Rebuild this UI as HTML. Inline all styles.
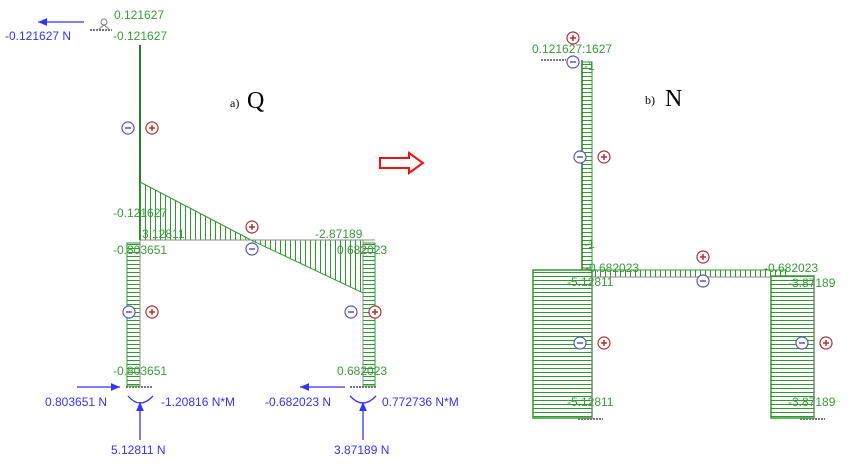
<!DOCTYPE html>
<html><head><meta charset="utf-8"><style>
html,body{margin:0;padding:0;background:#fff;}
svg{display:block;font-family:"Liberation Sans",sans-serif;}
.g{fill:#3a9a3a;font-size:12px;}
.b{fill:#3333ff;font-size:12px;}
</style></head><body>
<svg width="849" height="465" viewBox="0 0 849 465" xmlns="http://www.w3.org/2000/svg">
<defs>
<pattern id="hz" width="6" height="4" patternUnits="userSpaceOnUse"><rect width="6" height="4" fill="#fff"/><line x1="0" y1="0.5" x2="6" y2="0.5" stroke="#2e9a2e" stroke-width="1"/></pattern>
<pattern id="vt" width="5" height="6" patternUnits="userSpaceOnUse"><rect width="5" height="6" fill="#fff"/><line x1="0.5" y1="0" x2="0.5" y2="6" stroke="#2e9a2e" stroke-width="1"/></pattern>
<marker id="ah" markerWidth="8" markerHeight="8" refX="7" refY="4" orient="auto"><path d="M0,1 L7,4 L0,7 Z" fill="#3333ff"/></marker>
<g id="minus"><circle r="6" fill="#fff" stroke="#5555bb" stroke-width="1.2"/><line x1="-3" y1="0" x2="3" y2="0" stroke="#5555bb" stroke-width="1.5"/></g>
<g id="plus"><circle r="6" fill="#fff" stroke="#b03030" stroke-width="1.2"/><line x1="-3" y1="0" x2="3" y2="0" stroke="#b03030" stroke-width="1.5"/><line x1="0" y1="-3" x2="0" y2="3" stroke="#b03030" stroke-width="1.5"/></g>
</defs>

<line x1="140" y1="45" x2="140" y2="240" stroke="#2a7a2a" stroke-width="2"/>
<polygon points="140,182 140,240 251,240" fill="url(#vt)" stroke="#2e9a2e"/>
<polygon points="251,240 363,240 363,293" fill="url(#vt)" stroke="#2e9a2e"/>
<line x1="140" y1="240" x2="375" y2="240" stroke="#888" stroke-width="1"/>
<rect x="127" y="243" width="13" height="143" fill="url(#hz)" stroke="#2e9a2e"/>
<line x1="140" y1="240" x2="140" y2="386" stroke="#888"/>
<rect x="363" y="243" width="12" height="143" fill="url(#hz)" stroke="#2e9a2e"/>
<line x1="363" y1="240" x2="363" y2="386" stroke="#888"/>
<line x1="126" y1="387" x2="153" y2="387" stroke="#777" stroke-width="2" stroke-dasharray="2,1"/>
<line x1="350" y1="387" x2="377" y2="387" stroke="#777" stroke-width="2" stroke-dasharray="2,1"/>
<line x1="90" y1="30" x2="112" y2="30" stroke="#777" stroke-width="2" stroke-dasharray="2,1"/>
<circle cx="104" cy="22" r="3" fill="#fff" stroke="#777"/>
<line x1="104" y1="25" x2="99" y2="29" stroke="#777"/><line x1="104" y1="25" x2="109" y2="29" stroke="#777"/>

<text class="g" x="114" y="19">0.121627</text>
<text class="g" x="113" y="40">-0.121627</text>
<line x1="84" y1="22" x2="38" y2="22" stroke="#3333ff" stroke-width="1.3" marker-end="url(#ah)"/>
<text class="b" x="5" y="40">-0.121627 N</text>
<text x="230" y="107" font-family="Liberation Serif" font-size="12">a)</text>
<text x="247" y="108" font-family="Liberation Serif" font-size="24">Q</text>
<use href="#minus" x="128" y="128"/><use href="#plus" x="152" y="128"/>
<text class="g" x="113" y="217">-0.121627</text>
<text class="g" x="142" y="238">3.12811</text>
<text class="g" x="113" y="254">-0.803651</text>
<use href="#plus" x="252" y="227"/><use href="#minus" x="252" y="249"/>
<text class="g" x="315" y="238">-2.87189</text>
<text class="g" x="337" y="254">0.682023</text>
<use href="#minus" x="129" y="312"/><use href="#plus" x="152" y="312"/>
<use href="#minus" x="351" y="312"/><use href="#plus" x="375" y="312"/>
<text class="g" x="113" y="375">-0.803651</text>
<text class="g" x="337" y="375">0.682023</text>
<line x1="77" y1="387" x2="120" y2="387" stroke="#3333ff" stroke-width="1.3" marker-end="url(#ah)"/>
<text class="b" x="45" y="406">0.803651 N</text>
<line x1="140" y1="440" x2="140" y2="402" stroke="#3333ff" stroke-width="1.3" marker-end="url(#ah)"/>
<path d="M128,396 Q140,410 153,396" fill="none" stroke="#3333ff" stroke-width="1.3"/>
<text class="b" x="161" y="406">-1.20816 N*M</text>
<text class="b" x="111" y="454">5.12811 N</text>
<line x1="345" y1="387" x2="300" y2="387" stroke="#3333ff" stroke-width="1.3" marker-end="url(#ah)"/>
<text class="b" x="265" y="406">-0.682023 N</text>
<line x1="363" y1="440" x2="363" y2="402" stroke="#3333ff" stroke-width="1.3" marker-end="url(#ah)"/>
<path d="M350,396 Q363,410 376,396" fill="none" stroke="#3333ff" stroke-width="1.3"/>
<text class="b" x="382" y="406">0.772736 N*M</text>
<text class="b" x="334" y="454">3.87189 N</text>

<polygon points="380,158 409,158 409,153 423,163 409,173 409,168 380,168" fill="#fff" stroke="#ee1111" stroke-width="2"/>

<rect x="582" y="62" width="10" height="206" fill="url(#hz)" stroke="#2e9a2e"/>
<line x1="582" y1="60" x2="582" y2="270" stroke="#2a7a2a" stroke-width="1.5"/>
<rect x="582" y="270" width="205" height="7" fill="url(#vt)" stroke="none"/>
<line x1="582" y1="270" x2="787" y2="270" stroke="#2e9a2e"/>
<line x1="582" y1="277" x2="787" y2="277" stroke="#888"/>
<rect x="533" y="270" width="59" height="148" fill="url(#hz)" stroke="#2e9a2e" stroke-width="1.5"/>
<rect x="771" y="276" width="43" height="142" fill="url(#hz)" stroke="#2e9a2e" stroke-width="1.5"/>
<line x1="592" y1="277" x2="592" y2="418" stroke="#888"/>
<line x1="814" y1="277" x2="814" y2="418" stroke="#888"/>
<line x1="578" y1="419" x2="603" y2="419" stroke="#777" stroke-width="2" stroke-dasharray="2,1"/>
<line x1="800" y1="419" x2="825" y2="419" stroke="#777" stroke-width="2" stroke-dasharray="2,1"/>
<line x1="541" y1="60" x2="566" y2="60" stroke="#777" stroke-width="2" stroke-dasharray="2,1"/>
<use href="#plus" x="573" y="38"/>
<text class="g" x="532" y="53">0.121627:1627</text>
<use href="#minus" x="573" y="62"/>
<text class="g" x="584" y="70">-1</text>
<text x="645" y="104" font-family="Liberation Serif" font-size="12">b)</text>
<text x="665" y="106" font-family="Liberation Serif" font-size="24">N</text>
<use href="#minus" x="580" y="157"/><use href="#plus" x="604" y="157"/>
<text class="g" x="584" y="248">-1</text>
<text class="g" x="585" y="272">-0.682023</text>
<text class="g" x="567" y="286">-5.12811</text>
<use href="#plus" x="703" y="257"/><use href="#minus" x="703" y="281"/>
<text class="g" x="764" y="272">-0.682023</text>
<text class="g" x="788" y="287">-3.87189</text>
<use href="#minus" x="580" y="343"/><use href="#plus" x="604" y="343"/>
<use href="#minus" x="802" y="343"/><use href="#plus" x="826" y="343"/>
<text class="g" x="567" y="406">-5.12811</text>
<text class="g" x="788" y="406">-3.87189</text>
</svg>
</body></html>
